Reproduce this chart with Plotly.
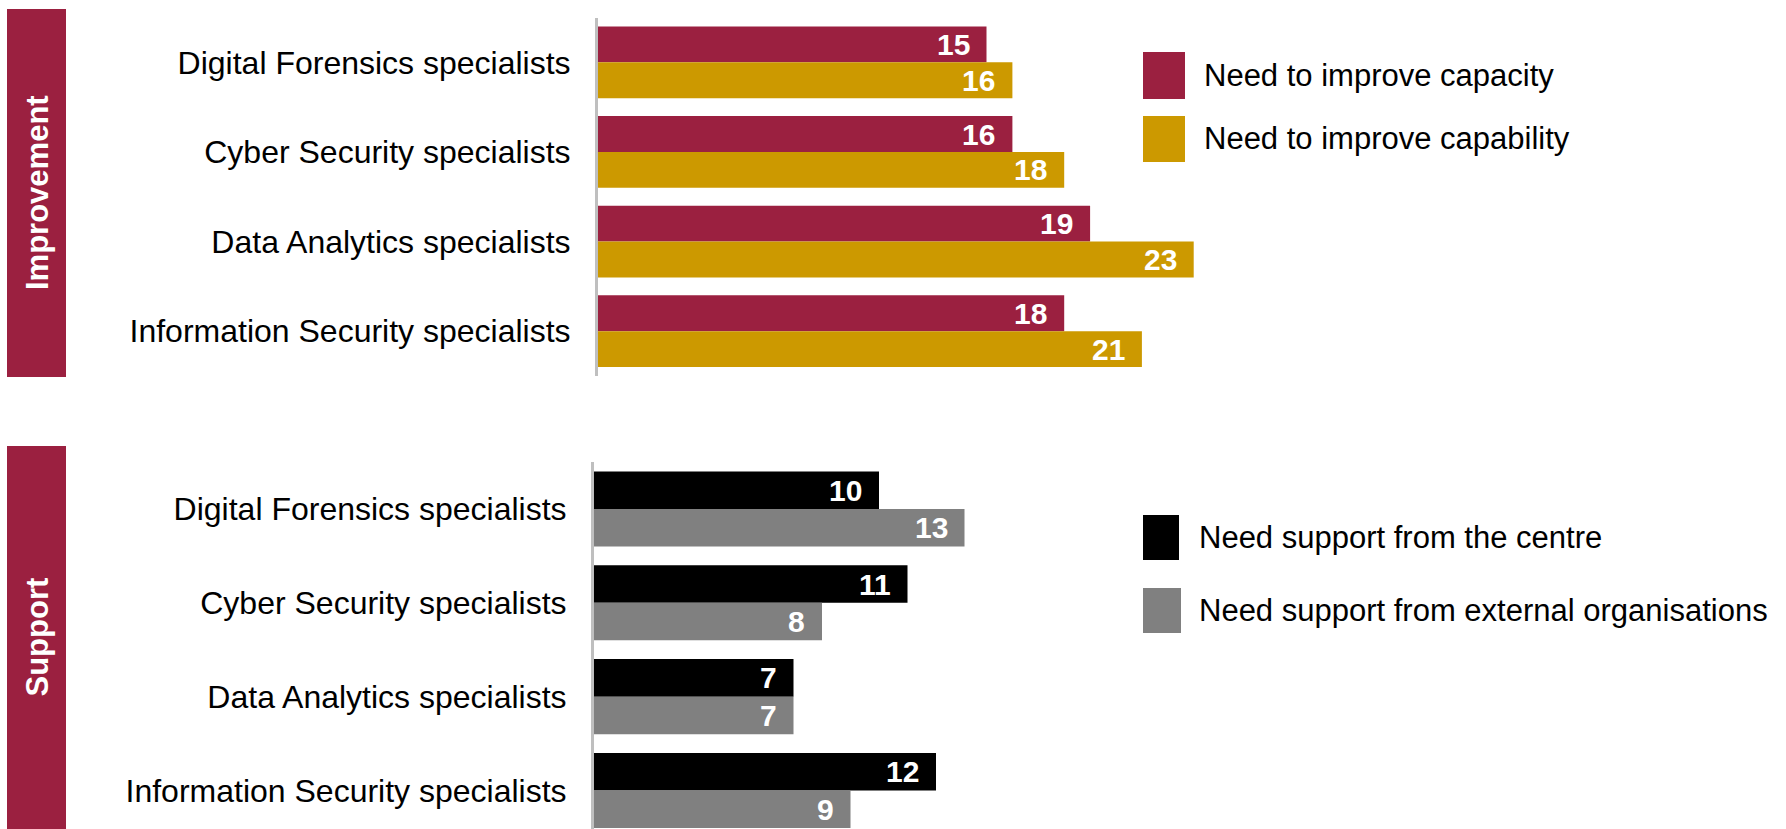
import plotly.graph_objects as go

# ---- data ----
categories = [
    "Digital Forensics specialists",
    "Cyber Security specialists",
    "Data Analytics specialists",
    "Information Security specialists",
]

improve_names = ["Need to improve capacity", "Need to improve capability"]
capacity = [15, 16, 19, 18]
capability = [16, 18, 23, 21]

support_names = ["Need support from the centre", "Need support from external organisations"]
centre = [10, 11, 7, 12]
external = [13, 8, 7, 9]

section_titles = ["Improvement", "Support"]

# ---- styling ----
W, H = 1786, 829
FONT = "Arial, Liberation Sans, sans-serif"
RED = "#9B2040"
GOLD = "#CC9900"
BLACK = "#000000"
GREY = "#808080"
AXIS_GREY = "#BFBFBF"


def px(x):
    return x / W


def py(y):
    return 1 - y / H


fig = go.Figure()

panels = [
    (improve_names, [capacity, capability], [RED, GOLD], "x", "y"),
    (support_names, [centre, external], [BLACK, GREY], "x2", "y2"),
]

annotations = []
for names, series, colors, xa, ya in panels:
    for k, (name, vals, col) in enumerate(zip(names, series, colors)):
        fig.add_trace(go.Bar(
            y=categories, x=vals, name=name, orientation="h",
            marker=dict(color=col, line=dict(width=0)),
            xaxis=xa, yaxis=ya, showlegend=False, hoverinfo="x+y+name",
        ))
        offset = -0.2 if k == 0 else 0.2
        for i, v in enumerate(vals):
            annotations.append(dict(
                x=v, y=i + offset, xref=xa, yref=ya,
                text=f"<b>{v}</b>", showarrow=False,
                xanchor="right", yanchor="middle", xshift=-15,
                font=dict(family=FONT, size=30, color="white"),
            ))

# section side boxes
shapes = []
boxes = [(9, 377), (446, 829)]
for title, (y0, y1) in zip(section_titles, boxes):
    shapes.append(dict(type="rect", xref="paper", yref="paper",
                       x0=px(7), x1=px(66), y0=py(y1), y1=py(y0),
                       fillcolor=RED, line=dict(width=0), layer="below"))
    annotations.append(dict(
        x=px(37), y=py((y0 + y1) / 2), xref="paper", yref="paper",
        text=f"<b>{title}</b>", textangle=-90, showarrow=False,
        xanchor="center", yanchor="middle",
        font=dict(family=FONT, size=31, color="white"),
    ))

# hand-placed legends
legend_items = [
    (improve_names[0], RED, 1143, 1185, 52, 99, 1202),
    (improve_names[1], GOLD, 1143, 1185, 116, 162, 1202),
    (support_names[0], BLACK, 1143, 1179, 515, 560, 1197),
    (support_names[1], GREY, 1143, 1181, 588, 633, 1197),
]
for name, col, x0, x1, y0, y1, tx in legend_items:
    shapes.append(dict(type="rect", xref="paper", yref="paper",
                       x0=px(x0), x1=px(x1), y0=py(y1), y1=py(y0),
                       fillcolor=col, line=dict(width=0)))
    annotations.append(dict(
        x=px(tx), y=py((y0 + y1) / 2), xref="paper", yref="paper",
        text=name, showarrow=False, xanchor="left", yanchor="middle",
        font=dict(family=FONT, size=31, color="black"),
    ))

ytick = dict(
    type="category", showline=True, linecolor=AXIS_GREY, linewidth=3,
    showgrid=False, zeroline=False, ticks="", ticklabelstandoff=18,
    tickfont=dict(family=FONT, size=32, color="black"), fixedrange=True,
)

fig.update_layout(
    width=W, height=H,
    margin=dict(l=0, r=0, t=0, b=0),
    paper_bgcolor="white", plot_bgcolor="white",
    barmode="group", bargap=0.2, bargroupgap=0,
    xaxis=dict(domain=[px(598), px(598 + 25.9 * 30)], range=[0, 30],
               visible=False, fixedrange=True),
    yaxis=dict(domain=[py(376), py(17.5)], range=[3.5, -0.5], anchor="x", **ytick),
    xaxis2=dict(domain=[px(594), px(594 + 28.5 * 30)], range=[0, 30],
                visible=False, fixedrange=True, anchor="y2"),
    yaxis2=dict(domain=[0, py(462)], range=[3.41, -0.5], anchor="x2", **ytick),
    shapes=shapes,
    annotations=annotations,
    font=dict(family=FONT),
)

fig.write_html("out.html")
